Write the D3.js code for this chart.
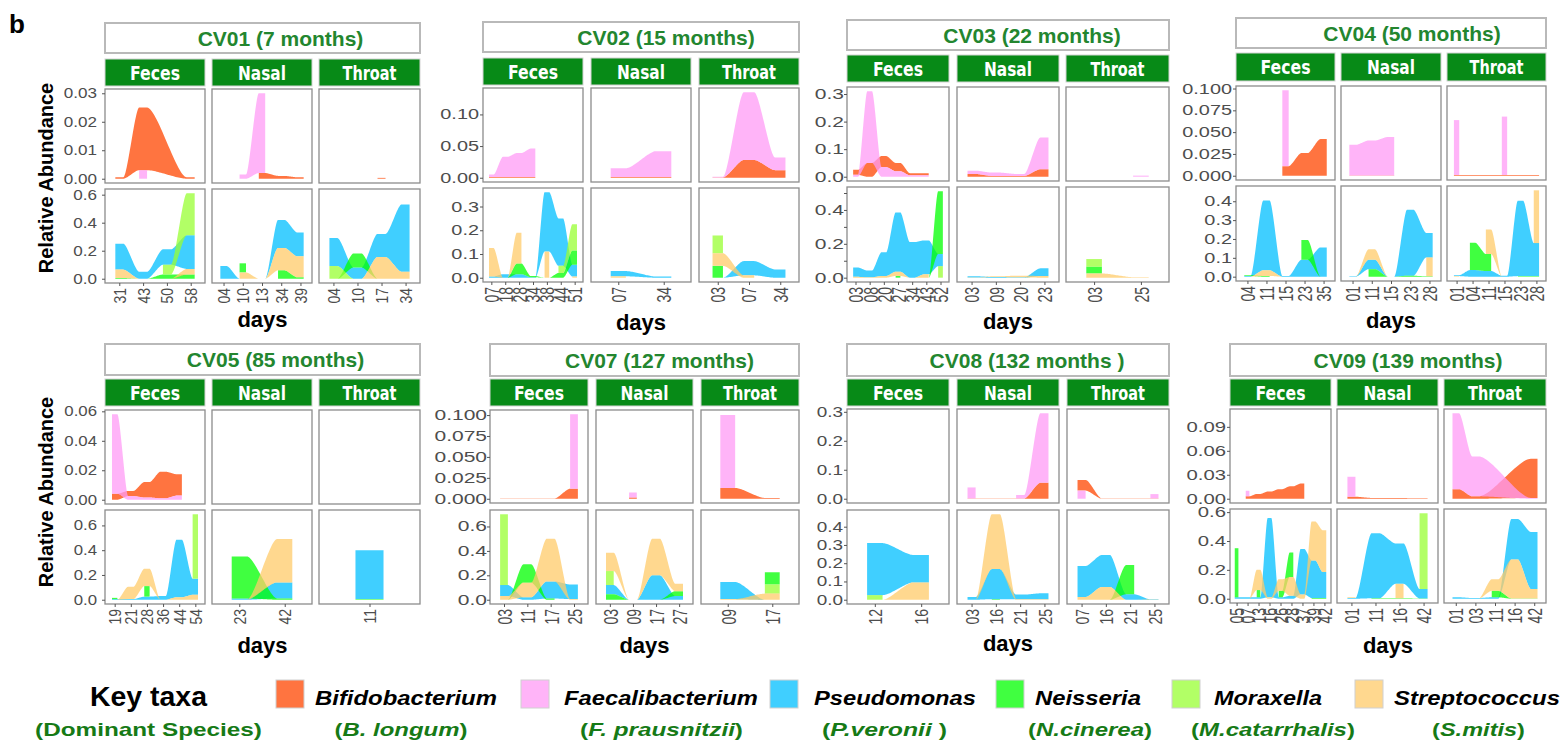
<!DOCTYPE html>
<html>
<head>
<meta charset="utf-8">
<script src="https://cdn.jsdelivr.net/npm/d3@7"></script>
<style>
  body { margin: 0; background: #fff; }
  svg { display: block; font-family: "Liberation Sans", Arial, sans-serif; }
</style>
</head>
<body>
<svg id="chart" width="1565" height="743"></svg>
<script>
// ---------------- taxa ----------------
const taxaKeys = ["Bif", "Fae", "Pse", "Nei", "Mor", "Str"];
const taxaNames = ["Bifidobacterium", "Faecalibacterium", "Pseudomonas", "Neisseria", "Moraxella", "Streptococcus"];
const taxaSpecies = ["B. longum", "F. prausnitzii", "P.veronii ", "N.cinerea", "M.catarrhalis", "S.mitis"];
const taxaColors = ["#FF4500", "#FF9BF5", "#00BFFF", "#00FF00", "#98FF33", "#FFCB69"];
const gutTaxa = ["Bif", "Fae"];          // upper row of every subject
const sites = ["Feces", "Nasal", "Throat"];
const groupTitles = ["CV01 (7 months)", "CV02 (15 months)", "CV03 (22 months)", "CV04 (50 months)",
                     "CV05 (85 months)", "CV07 (127 months)", "CV08 (132 months )", "CV09 (139 months)"];

// ---------------- CV01 ----------------
const cv01Days = [["31","43","50","58"], ["04","10","13","34","39"], ["04","10","17","34"]];
const cv01Feces = [
  ["Bif", [0.0005, 0.022, null, 0.0005]],
  ["Fae", [null, 0.003, null, null]],
  ["Pse", [0.185, 0.05, 0.11, 0.24]],
  ["Nei", [0.005, 0, 0.03, 0.03]],
  ["Mor", [null, null, 0.07, 0.30]],
  ["Str", [0.06, 0, 0, 0.04]]];
const cv01Nasal = [
  ["Bif", [null, null, 0.002, 0.001, 0.0005]],
  ["Fae", [null, 0.0015, 0.028, null, null]],
  ["Pse", [0.09, 0, 0, 0.20, 0.17]],
  ["Nei", [null, 0.065, null, null, null]],
  ["Nei", [null, null, null, 0.06, 0.01]],
  ["Str", [null, 0.045, 0, 0.16, 0.15]]];
const cv01Throat = [
  ["Bif", [null, null, 0.0003, null]],
  ["Pse", [0.20, 0.08, 0.165, 0.48]],
  ["Nei", [0, 0.10, 0, null]],
  ["Mor", [0.09, 0, null, null]],
  ["Str", [null, 0, 0.155, 0.05]]];
const cv01YTicks = [["0.00","0.01","0.02","0.03"], ["0.0","0.2","0.4","0.6"]];

// ---------------- CV02 ----------------
const cv02Days = [["07","18","28","34","38","44","51"], ["07","34"], ["03","07","34"]];
const cv02Feces = [
  ["Bif", [0.001, 0.001, 0.001, 0.001, null, null, null]],
  ["Fae", [0.004, 0.032, 0.038, 0.045, null, null, null]],
  ["Pse", [0.005, 0.015, 0.015, 0.002, 0.25, 0.20, 0.05]],
  ["Nei", [null, 0, 0.045, 0.005, 0, 0.02, 0.06]],
  ["Mor", [null, null, null, null, null, 0.03, 0.11]],
  ["Str", [0.12, 0, 0.13, null, null, null, null]],
  ["Str", [null, null, null, null, 0.11, null, null]],
  ["Str", [null, null, null, null, null, null, 0.005]]];
const cv02Nasal = [
  ["Bif", [0.001, 0.001]],
  ["Fae", [0.014, 0.041]],
  ["Pse", [0.022, 0.005]],
  ["Str", [0.006, null]]];
const cv02Throat = [
  ["Bif", [0.0005, 0.028, 0.012]],
  ["Fae", [0.001, 0.107, 0.02]],
  ["Pse", [0, 0.06, 0.035]],
  ["Nei", [0.05, null, null]],
  ["Mor", [0.075, null, null]],
  ["Str", [0.053, 0.01, null]]];
const cv02YTicks = [["0.00","0.05","0.10"], ["0.0","0.1","0.2","0.3"]];

// ---------------- CV03 ----------------
const cv03Days = [["03","08","20","27","34","43","52"], ["03","09","20","23"], ["03","25"]];
const cv03Feces = [
  ["Bif", [0.018, 0.05, 0.04, 0.03, 0.008, 0.008, null]],
  ["Fae", [0.007, 0.26, 0.035, 0.02, 0.005, 0.005, null]],
  ["Pse", [0.055, 0.04, 0.14, 0.35, 0.21, 0.20, 0.072]],
  ["Nei", [null, null, null, 0.01, null, null, null]],
  ["Nei", [null, null, null, null, null, 0, 0.37]],
  ["Mor", [null, null, null, null, null, null, 0.068]],
  ["Str", [0.005, 0.002, 0.01, 0.025, 0, 0.02, null]]];
const cv03Nasal = [
  ["Bif", [0.01, 0.003, 0.003, 0.027]],
  ["Fae", [0.012, 0.012, 0.007, 0.115]],
  ["Pse", [0.008, 0.004, 0.002, 0.045]],
  ["Str", [0.001, 0.004, 0.01, 0.01]]];
const cv03Throat = [
  ["Fae", [null, 0.004]],
  ["Nei", [0.04, null]],
  ["Mor", [0.045, null]],
  ["Str", [0.025, 0.003]]];
const cv03YTicks = [["0.0","0.1","0.2","0.3"], ["0.0","0.2","0.4"]];
const cv03MinorTicks = [[], [0.1, 0.3, 0.5]];

// ---------------- CV04 ----------------
const cv04Days = [["04","11","15","23","35"], ["01","11","15","23","28"], ["01","04","11","15","23","28"]];
const cv04Feces = [
  ["Bif", [null, null, 0.011, 0.026, 0.042]],
  ["Fae", [null, null, 0.087, null, null]],
  ["Pse", [0.004, 0.37, 0.004, 0.09, 0.155]],
  ["Nei", [0.004, 0.004, null, null, null]],
  ["Nei", [null, null, null, 0.105, 0]],
  ["Str", [0, 0.03, 0, null, null]]];
const cv04Nasal = [
  ["Bif", [0.0004, 0.0004, 0.0004, null, null]],
  ["Fae", [0.035, 0.04, 0.044, null, null]],
  ["Pse", [0.002, 0.05, 0, 0.35, 0.13]],
  ["Nei", [null, 0.04, 0, 0.005, 0.002]],
  ["Str", [0, 0.055, 0, null, null]],
  ["Str", [null, null, null, null, 0.1]]];
const cv04Throat = [
  ["Bif", [0.0008, 0.0008, 0.0008, 0.0008, 0.0008, 0.0008]],
  ["Fae", [0.063, null, null, null, null, null]],
  ["Fae", [null, null, null, 0.067, null, null]],
  ["Pse", [0.005, 0.035, 0.03, 0.005, 0.40, 0.175]],
  ["Nei", [null, 0.145, 0.09, null, null, null]],
  ["Nei", [null, null, null, null, 0.003, 0.003]],
  ["Str", [0.003, null, null, null, null, null]],
  ["Str", [null, null, 0.13, 0, null, null]],
  ["Str", [null, null, null, null, null, 0.28]]];
const cv04YTicks = [["0.000","0.025","0.050","0.075","0.100"], ["0.0","0.1","0.2","0.3","0.4"]];

// ---------------- CV05 ----------------
const cv05Days = [["19","21","28","36","44","54"], ["23","42"], ["11"]];
const cv05Feces = [
  ["Bif", [0.004, 0.0035, 0.0105, 0.018, 0.0145, null]],
  ["Fae", [0.054, 0.0025, 0.0015, 0.001, 0.0028, null]],
  ["Pse", [0.005, 0.005, 0.025, 0.03, 0.465, 0.13]],
  ["Nei", [0.01, null, null, null, null, null]],
  ["Nei", [null, null, 0.085, null, null, null]],
  ["Mor", [null, null, null, null, null, 0.52]],
  ["Str", [0, 0.1, 0.14, 0, 0.02, 0.04]]];
const cv05Nasal = [
  ["Pse", [0.01, 0.13]],
  ["Nei", [0.34, 0.01]],
  ["Str", [0, 0.35]]];
const cv05Throat = [
  ["Pse", [0.395]],
  ["Nei", [0.005]]];
const cv05YTicks = [["0.00","0.02","0.04","0.06"], ["0.0","0.2","0.4","0.6"]];

// ---------------- CV07 ----------------
const cv07Days = [["03","11","17","25"], ["03","09","17","27"], ["09","17"]];
const cv07Feces = [
  ["Bif", [0.0004, 0.0004, 0.0004, 0.012]],
  ["Fae", [null, null, null, 0.089]],
  ["Pse", [0.09, 0.02, 0.14, 0.12]],
  ["Nei", [0, 0.15, 0.01, null]],
  ["Mor", [0.58, null, null, null]],
  ["Str", [0.03, 0.12, 0.35, 0.005]]];
const cv07Nasal = [
  ["Bif", [null, 0.0015, null, null]],
  ["Fae", [null, 0.006, null, null]],
  ["Pse", [0.075, 0, 0.2, 0.03]],
  ["Nei", [0.045, 0, 0, 0.04]],
  ["Mor", [0.115, null, null, null]],
  ["Str", [0.15, 0, 0.3, 0.06]]];
const cv07Throat = [
  ["Bif", [0.013, 0.001]],
  ["Fae", [0.087, null]],
  ["Pse", [0.14, 0]],
  ["Nei", [null, 0.1]],
  ["Mor", [null, 0.075]],
  ["Str", [0.005, 0.05]]];
const cv07YTicks = [["0.000","0.025","0.050","0.075","0.100"], ["0.0","0.2","0.4","0.6"]];

// ---------------- CV08 ----------------
const cv08Days = [["12","16"], ["03","16","21","25"], ["07","16","21","25"]];
const cv08Feces = [
  ["Pse", [0.285, 0.15]],
  ["Mor", [0.025, null]],
  ["Str", [0, 0.095]]];
const cv08Nasal = [
  ["Bif", [0.001, 0.001, 0.001, 0.055]],
  ["Fae", [0.038, null, null, null]],
  ["Fae", [null, null, 0.012, 0.24]],
  ["Pse", [0.015, 0.165, 0.025, 0.033]],
  ["Nei", [null, 0.003, null, null]],
  ["Str", [0, 0.3, 0.003, 0.002]]];
const cv08Throat = [
  ["Bif", [0.037, 0.001, 0.001, 0.001]],
  ["Fae", [0.028, null, null, null]],
  ["Fae", [null, null, null, 0.015]],
  ["Pse", [0.17, 0.175, 0.03, 0.002]],
  ["Nei", [null, 0, 0.16, null]],
  ["Str", [0.015, 0.07, 0, 0.002]]];
const cv08YTicks = [["0.0","0.1","0.2","0.3"], ["0.0","0.1","0.2","0.3","0.4"]];

// ---------------- CV09 ----------------
const cv09Days = [["05","07","13","16","26","28","37","39","42"], ["01","11","16","42"], ["01","03","11","16","42"]];
const cv09Feces = [
  ["Bif", [null, 0.003, 0.006, 0.009, 0.012, 0.0155, 0.019, null, null]],
  ["Fae", [null, 0.007, null, null, null, null, null, null, null]],
  ["Pse", [0.01, 0.01, 0.01, 0.55, 0.01, 0.02, 0.315, 0.26, 0.18]],
  ["Nei", [0.34, null, null, null, null, null, null, null, null]],
  ["Nei", [null, null, 0.05, null, null, null, null, null, null]],
  ["Nei", [null, null, null, null, 0.045, 0.17, null, null, null]],
  ["Nei", [null, null, null, null, null, null, null, 0.005, 0.005]],
  ["Str", [null, 0, 0.14, 0.01, 0.08, 0.13, 0.03, 0.27, 0.29]]];
const cv09Nasal = [
  ["Bif", [0.0025, 0.001, 0.0008, 0.0005]],
  ["Fae", [0.025, null, null, null]],
  ["Pse", [0.005, 0.45, 0.28, 0.065]],
  ["Nei", [null, 0.003, 0.003, 0.002]],
  ["Mor", [null, null, null, 0.525]],
  ["Str", [0.005, null, null, null]],
  ["Str", [null, null, 0.1, null]]];
const cv09Throat = [
  ["Bif", [0.012, 0.003, null, null, 0.049]],
  ["Fae", [0.095, 0.05, null, null, 0.001]],
  ["Pse", [0.01, 0.005, 0.01, 0.28, 0.395]],
  ["Nei", [null, null, 0.045, 0.002, 0.002]],
  ["Str", [null, 0, 0.08, 0.27, 0.065]]];
const cv09YTicks = [["0.00","0.03","0.06","0.09"], ["0.0","0.2","0.4","0.6"]];

// ---------------- assemble subjects ----------------
const subjects = [
  { days: cv01Days, series: [cv01Feces, cv01Nasal, cv01Throat], ticks: cv01YTicks },
  { days: cv02Days, series: [cv02Feces, cv02Nasal, cv02Throat], ticks: cv02YTicks },
  { days: cv03Days, series: [cv03Feces, cv03Nasal, cv03Throat], ticks: cv03YTicks, minor: cv03MinorTicks },
  { days: cv04Days, series: [cv04Feces, cv04Nasal, cv04Throat], ticks: cv04YTicks },
  { days: cv05Days, series: [cv05Feces, cv05Nasal, cv05Throat], ticks: cv05YTicks },
  { days: cv07Days, series: [cv07Feces, cv07Nasal, cv07Throat], ticks: cv07YTicks },
  { days: cv08Days, series: [cv08Feces, cv08Nasal, cv08Throat], ticks: cv08YTicks },
  { days: cv09Days, series: [cv09Feces, cv09Nasal, cv09Throat], ticks: cv09YTicks }
].map((s, i) => Object.assign(s, { title: groupTitles[i] }));

// ---------------- page layout (pixels) ----------------
const layout = [
  { cols: [[105,205],[212,312],[319,420]],   title: [23,53],  strip: [59,86],  top: [89,183],  bot: [189,283], daysY: 327, sx: 1.22, gap: 8, titleDx: 18 },
  { cols: [[483,583],[591,691],[699,799]],   title: [22,52],  strip: [58,85],  top: [88,182],  bot: [188,282], daysY: 330, sx: 1.42, gap: 4, titleDx: 25 },
  { cols: [[847,949],[957,1059],[1066,1169]],title: [20,50],  strip: [55,82],  top: [87,181],  bot: [187,282], daysY: 329, sx: 1.5,  gap: 3, titleDx: 24 },
  { cols: [[1236,1335],[1341,1441],[1447,1546]], title: [18,48], strip: [53,81], top: [86,180], bot: [186,281], daysY: 328, sx: 1.42, gap: 4, titleDx: 21 },
  { cols: [[105,205],[212,312],[319,420]],   title: [344,375], strip: [379,406], top: [410,504], bot: [510,604], daysY: 653, sx: 1.2,  gap: 8, titleDx: 13 },
  { cols: [[490,588],[596,693],[701,799]],   title: [344,376], strip: [379,406], top: [410,503], bot: [510,604], daysY: 653, sx: 1.5,  gap: 3, titleDx: 15 },
  { cols: [[847,949],[957,1059],[1067,1169]],title: [344,376], strip: [379,406], top: [409,503], bot: [510,604], daysY: 651, sx: 1.35, gap: 4, titleDx: 19 },
  { cols: [[1230,1331],[1337,1438],[1444,1546]], title: [344,376], strip: [379,406], top: [409,503], bot: [509,603], daysY: 653, sx: 1.45, gap: 4, titleDx: 20 }
];

const FILL_OPACITY = 0.75;
const titleGreen = "#23862F";
const stripGreen = "#078A17";
const speciesGreen = "#167A16";

const svg = d3.select("#chart");
const colorOf = d3.scaleOrdinal(taxaKeys, taxaColors);

// stack the lodes present at each day: smallest value at the bottom
function stackLodes(series, n) {
  const out = series.map(s => ({ key: s[0], lodes: [] }));
  let max = 0;
  for (let i = 0; i < n; i++) {
    const present = series.map((s, j) => ({ j, v: s[1][i] })).filter(d => d.v != null);
    present.sort((a, b) => a.v - b.v);
    let c = 0;
    present.forEach(d => { out[d.j].lodes.push({ i, lo: c, hi: c + d.v }); c += d.v; });
    max = Math.max(max, c);
  }
  return { out, max };
}

// outline of one alluvium: flat lodes joined by x-spline-like flows
function alluviumPoints(lodes, xPos, w) {
  const pts = [];
  const K = 0.25, N = 30;
  lodes.forEach((l, k) => {
    const xc = xPos(l.i);
    if (k > 0) {
      const p = lodes[k - 1];
      const x0 = xPos(p.i) + w / 2, x1 = xc - w / 2;
      for (let s = 1; s < N; s++) {
        const t = s / N;
        const bx = 3 * (1 - t) * (1 - t) * t * K + 3 * (1 - t) * t * t * (1 - K) + t * t * t;
        const by = t * t * (3 - 2 * t);
        pts.push({ x: x0 + (x1 - x0) * bx, lo: p.lo + (l.lo - p.lo) * by, hi: p.hi + (l.hi - p.hi) * by });
      }
    }
    pts.push({ x: xc - w / 2, lo: l.lo, hi: l.hi });
    pts.push({ x: xc + w / 2, lo: l.lo, hi: l.hi });
  });
  return pts;
}

// "b" panel tag
svg.append("text").attr("x", 9).attr("y", 33).attr("font-size", 26).attr("font-weight", "bold").text("b");

subjects.forEach((subj, gi) => {
  const L = layout[gi];
  const G = svg.append("g");
  const left = L.cols[0][0], right = L.cols[2][1];

  // subject title box
  G.append("rect").attr("x", left).attr("y", L.title[0]).attr("width", right - left)
    .attr("height", L.title[1] - L.title[0]).attr("fill", "#fff").attr("stroke", "#b9b9b9").attr("stroke-width", 2);
  G.append("text").attr("x", (left + right) / 2 + L.titleDx).attr("y", (L.title[0] + L.title[1]) / 2 + 7.5)
    .attr("text-anchor", "middle").attr("font-size", 21).attr("font-weight", "bold").attr("fill", titleGreen)
    .text(subj.title);

  // site strips
  const stripW = { Feces: 50, Nasal: 48, Throat: 54 };
  sites.forEach((site, si) => {
    const [c0, c1] = L.cols[si];
    G.append("rect").attr("x", c0).attr("y", L.strip[0]).attr("width", c1 - c0).attr("height", L.strip[1] - L.strip[0])
      .attr("fill", stripGreen).attr("stroke", "#d4d4d4").attr("stroke-width", 1);
    const t = G.append("text").attr("transform", `translate(${(c0 + c1) / 2},${(L.strip[0] + L.strip[1]) / 2 + 7})`)
      .attr("text-anchor", "middle").attr("font-size", 20).attr("font-weight", "bold").attr("fill", "#fff")
      .style("font-family", '"Liberation Sans Narrow", "Arial Narrow", "DejaVu Sans Condensed", sans-serif')
      .text(site);
    const nat = t.node().getComputedTextLength();
    if (nat > 0) t.attr("transform", t.attr("transform") + ` scale(${stripW[site] / nat},1)`);
  });

  // two rows: gut taxa above, airway taxa below
  [0, 1].forEach(ri => {
    const rowSeries = subj.series.map(list => list.filter(s => (gutTaxa.indexOf(s[0]) >= 0) === (ri === 0)));
    const stacks = rowSeries.map((list, si) => stackLodes(list, subj.days[si].length));
    const ymax = d3.max(stacks, s => s.max) || 1;
    const yr = ri === 0 ? L.top : L.bot;
    const y = d3.scaleLinear().domain([-0.05 * ymax, 1.05 * ymax]).range([yr[1], yr[0]]);

    sites.forEach((site, si) => {
      const [c0, c1] = L.cols[si];
      const days = subj.days[si];
      const x = d3.scalePoint().domain(days).range([c0, c1]).padding(0.6);
      const w = x.step() / 3;
      const xPos = i => x(days[i]);
      const P = G.append("g");
      P.append("rect").attr("x", c0).attr("y", yr[0]).attr("width", c1 - c0).attr("height", yr[1] - yr[0]).attr("fill", "#fff");

      const area = d3.area().x(d => d.x).y0(d => y(d.lo)).y1(d => y(d.hi));
      const drawn = stacks[si].out.filter(s => s.lodes.length > 0)
        .map((s, k) => ({ s, k }))
        .sort((a, b) => (taxaKeys.indexOf(a.s.key) - taxaKeys.indexOf(b.s.key)) || (a.k - b.k));
      drawn.forEach(({ s }) => {
        P.append("path").attr("d", area(alluviumPoints(s.lodes, xPos, w)))
          .attr("fill", colorOf(s.key)).attr("fill-opacity", FILL_OPACITY);
      });

      P.append("rect").attr("x", c0).attr("y", yr[0]).attr("width", c1 - c0).attr("height", yr[1] - yr[0])
        .attr("fill", "none").attr("stroke", "#8c8c8c").attr("stroke-width", 1.3);

      // y axis on the first site only
      if (si === 0) {
        const labels = subj.ticks[ri];
        const minors = subj.minor ? subj.minor[ri] : [];
        const values = labels.map(Number).concat(minors);
        const labelOf = new Map(labels.map(l => [+l, l]));
        const ax = d3.axisLeft(y).tickValues(values).tickFormat(v => labelOf.has(v) ? labelOf.get(v) : "")
          .tickSize(3).tickSizeOuter(0);
        const gA = G.append("g").attr("transform", `translate(${c0},0)`).call(ax);
        gA.select(".domain").remove();
        gA.selectAll("line").attr("stroke", "#555");
        gA.selectAll("text").attr("x", 0).attr("fill", "#4d4d4d")
          .attr("font-size", 14).attr("font-family", '"Liberation Sans", Arial, sans-serif')
          .attr("transform", `translate(${-L.gap},0) scale(${L.sx},1)`);
      }
      // x axis under the lower row
      if (ri === 1) {
        const ax = d3.axisBottom(x).tickSize(3).tickSizeOuter(0);
        const gA = G.append("g").attr("transform", `translate(0,${yr[1]})`).call(ax);
        gA.select(".domain").remove();
        gA.selectAll("line").attr("stroke", "#555");
        gA.selectAll("text").attr("x", 0).attr("y", 0).attr("dy", "0.35em").attr("fill", "#4d4d4d")
          .attr("font-size", 14).attr("font-family", '"Liberation Sans", Arial, sans-serif')
          .style("text-anchor", "end")
          .attr("transform", `translate(0,5) scale(${L.sx},1) rotate(-90)`);
      }
    });
  });

  // axis title
  G.append("text").attr("x", (left + right) / 2).attr("y", L.daysY).attr("text-anchor", "middle")
    .attr("font-size", 22).attr("font-weight", "bold").text("days");
});

// y axis titles for the two rows of subjects
[[46, 178], [46, 492]].forEach(([cx, cy]) => {
  svg.append("text").attr("transform", `translate(${cx},${cy}) rotate(-90)`).attr("text-anchor", "middle")
    .attr("dominant-baseline", "central").attr("font-size", 20).attr("font-weight", "bold").text("Relative Abundance");
});

// ---------------- legend ----------------
function fitWidth(t, width) {
  const nat = t.node().getComputedTextLength();
  if (nat > 0) t.attr("transform", t.attr("transform") + ` scale(${width / nat},1)`);
}
const lg = svg.append("g");
const kt = lg.append("text").attr("transform", "translate(148.5,706)").attr("text-anchor", "middle")
  .attr("font-size", 28).attr("font-weight", "bold").attr("fill", "#000").text("Key taxa");
fitWidth(kt, 117);
const ds = lg.append("text").attr("transform", "translate(148.5,736)").attr("text-anchor", "middle")
  .attr("font-size", 19).attr("font-weight", "bold").attr("fill", speciesGreen).text("(Dominant Species)");
fitWidth(ds, 227);

const swatchX = [276, 521, 770, 996, 1172, 1355];
const nameCx = [406, 661, 895, 1088, 1268, 1477];
const nameW = [182, 194, 162, 106, 108, 166];
const spCx = [401, 661.5, 884.5, 1090, 1273, 1478.5];
const spW = [133, 163, 125, 124, 164, 93];
taxaKeys.forEach((k, i) => {
  lg.append("rect").attr("x", swatchX[i]).attr("y", 680).attr("width", 28).attr("height", 28)
    .attr("fill", taxaColors[i]).attr("fill-opacity", FILL_OPACITY).attr("stroke", "#d0d0d0").attr("stroke-width", 1);
  const nt = lg.append("text").attr("transform", `translate(${nameCx[i]},705)`).attr("text-anchor", "middle")
    .attr("font-size", 21).attr("font-weight", "bold").attr("font-style", "italic").text(taxaNames[i]);
  fitWidth(nt, nameW[i]);
  const st = lg.append("text").attr("transform", `translate(${spCx[i]},736)`).attr("text-anchor", "middle")
    .attr("font-size", 19).attr("font-weight", "bold").attr("fill", speciesGreen);
  st.append("tspan").text("(");
  st.append("tspan").attr("font-style", "italic").text(taxaSpecies[i]);
  st.append("tspan").text(")");
  fitWidth(st, spW[i]);
});
</script>
</body>
</html>
